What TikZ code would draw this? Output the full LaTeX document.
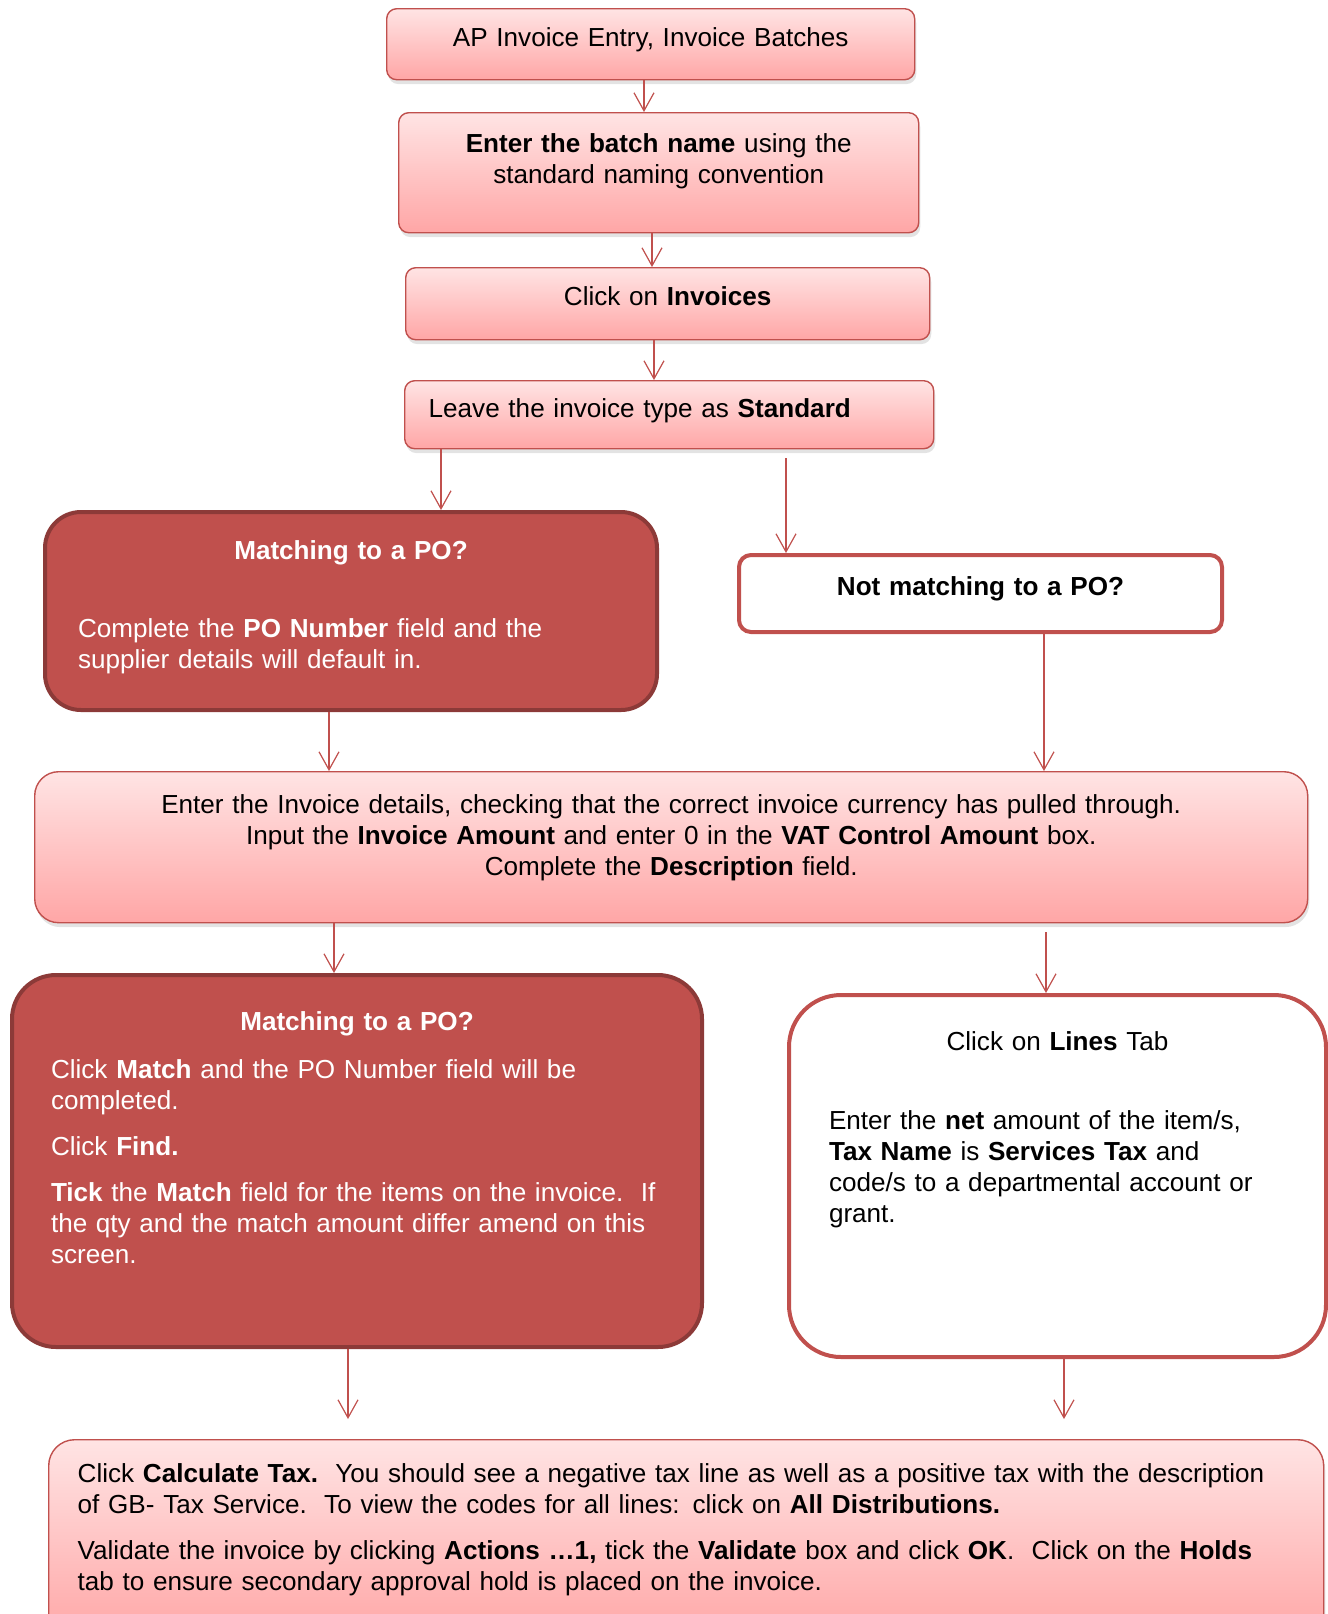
\documentclass[tikz,border=0pt]{standalone}
\usepackage{fontspec}
\setmainfont{Liberation Sans}
\usetikzlibrary{arrows.meta,shadows}

\definecolor{accent}{RGB}{192,80,77}
\definecolor{accentdark}{RGB}{140,58,56}
\definecolor{pinktop}{RGB}{255,228,228}
\definecolor{pinkbottom}{RGB}{255,166,166}

\newcommand*\boxfont{\fontsize{13.05pt}{15.5pt}\selectfont}
\tikzset{card/.style 2 args={
    rectangle,
    anchor=north west,
    inner ysep=0pt,
    font=\boxfont,
    text height=#1*0.5pt,
    text depth=(#2-#1)*0.5pt
  },
  pinkbox/.style={
    draw=accent,
    line width=0.7pt,
    rounded corners=5pt,
    top color=pinktop,
    bottom color=pinkbottom,
    drop shadow={shadow xshift=0.8pt,shadow yshift=-2.2pt,opacity=0.22}
  },
  darkbox/.style={
    draw=accentdark,
    line width=2pt,
    fill=accent,
    text=white,
    rounded corners=18pt,
    align=left
  },
  whitebox/.style={
    draw=accent,
    line width=2pt,
    fill=white
  },
  flow/.style={
    draw=accent,
    line width=0.6pt,
    -{Straight Barb[length=9pt,width=10pt]}
  }
}

\begin{document}
\begin{tikzpicture}[x=0.5pt,y=-0.5pt]
    \useasboundingbox (0,0) rectangle (1328,1614);
    \clip (0,0) rectangle (1328,1614);

    % The top steps, one under the other.
    \node[card={38}{71},pinkbox,inner xsep=10pt,text width=244pt,align=center] (batches) at (386,8)
        {AP Invoice Entry, Invoice Batches};
    \node[card={40}{120},pinkbox,inner xsep=10pt,text width=240pt,align=center] (batchname) at (398,112)
        {\textbf{Enter the batch name} using the\\standard naming convention};
    \node[card={38}{72},pinkbox,inner xsep=10pt,text width=242pt,align=center] (invoices) at (405,267)
        {Click on \textbf{Invoices}};
    \node[card={37}{68},pinkbox,inner xsep=12pt,text width=240.5pt,align=left] (invtype) at (404,380)
        {Leave the invoice type as \textbf{Standard}};

    % Matching or not matching to a PO.
    \node[card={47}{198},darkbox,inner xsep=16.5pt,text width=273pt] (match1) at (43,510)
        {\makebox[\linewidth]{\textbf{Matching to a PO?}}\\[23.5pt]
         Complete the \textbf{PO Number} field and the\\supplier details will default in.};
    \node[card={40}{77},whitebox,rounded corners=6pt,inner xsep=10pt,text width=221.5pt,align=center] (nomatch) at (737,553)
        {\textbf{Not matching to a PO?}};

    \node[card={42}{151},pinkbox,rounded corners=12pt,inner xsep=10pt,text width=616.5pt,align=center] (details) at (34,771)
        {Enter the Invoice details, checking that the correct invoice currency has pulled through.\\
         Input the \textbf{Invoice Amount} and enter 0 in the \textbf{VAT Control Amount} box.\\
         Complete the \textbf{Description} field.};

    % Second split.
    \node[card={55}{372},darkbox,rounded corners=22pt,inner xsep=17.5pt,text width=310pt] (match2) at (10,973)
        {\makebox[\linewidth]{\textbf{Matching to a PO?}}\\[8.5pt]
         \hspace*{2pt}Click \textbf{Match} and the PO Number field will be\\\hspace*{2pt}completed.\\[7.5pt]
         \hspace*{2pt}Click \textbf{Find.}\\[7.5pt]
         \hspace*{2pt}\textbf{Tick} the \textbf{Match} field for the items on the invoice.\ \ If\\
         \hspace*{2pt}the qty and the match amount differ amend on this\\\hspace*{2pt}screen.};
    \node[card={55}{362},whitebox,rounded corners=26pt,inner xsep=20pt,text width=228.5pt,align=left] (lines) at (787,993)
        {\makebox[\linewidth]{Click on \textbf{Lines} Tab}\\[24pt]
         Enter the \textbf{net} amount of the item/s,\\
         \textbf{Tax Name} is \textbf{Services Tax} and\\
         code/s to a departmental account or\\grant.};

    % Last step, cut off at the page edge.
    \node[card={43}{200},pinkbox,rounded corners=13pt,inner xsep=14.5pt,text width=608.5pt,align=left] (taxcalc) at (48,1439)
        {Click \textbf{Calculate Tax.}\ \ You should see a negative tax line as well as a positive tax with the description\\
         of GB- Tax Service.\ \ To view the codes for all lines: click on \textbf{All Distributions.}\\[7.5pt]
         Validate the invoice by clicking \textbf{Actions \dots1,} tick the \textbf{Validate} box and click \textbf{OK}.\ \ Click on the \textbf{Holds}\\
         tab to ensure secondary approval hold is placed on the invoice.};

    % Free ends of some arrows.
    \coordinate (split) at (786,458);
    \coordinate (linesout) at (1046,932);
    \coordinate (leftin) at (348,1419);
    \coordinate (rightin) at (1064,1419);

    % Arrows.
    \draw[flow] (644,0 |- batches.south) -- (644,0 |- batchname.north);
    \draw[flow] (652,0 |- batchname.south) -- (652,0 |- invoices.north);
    \draw[flow] (654,0 |- invoices.south) -- (654,0 |- invtype.north);
    \draw[flow] (441,0 |- invtype.south) -- (441,0 |- match1.north);
    \draw[flow] (split) -- (split |- nomatch.north);
    \draw[flow] (329,0 |- match1.south) -- (329,0 |- details.north);
    \draw[flow] (1044,0 |- nomatch.south) -- (1044,0 |- details.north);
    \draw[flow] (334,0 |- details.south) -- (334,0 |- match2.north);
    \draw[flow] (linesout) -- (linesout |- lines.north);
    \draw[flow] (leftin |- match2.south) -- (leftin);
    \draw[flow] (rightin |- lines.south) -- (rightin);
\end{tikzpicture}
\end{document}
